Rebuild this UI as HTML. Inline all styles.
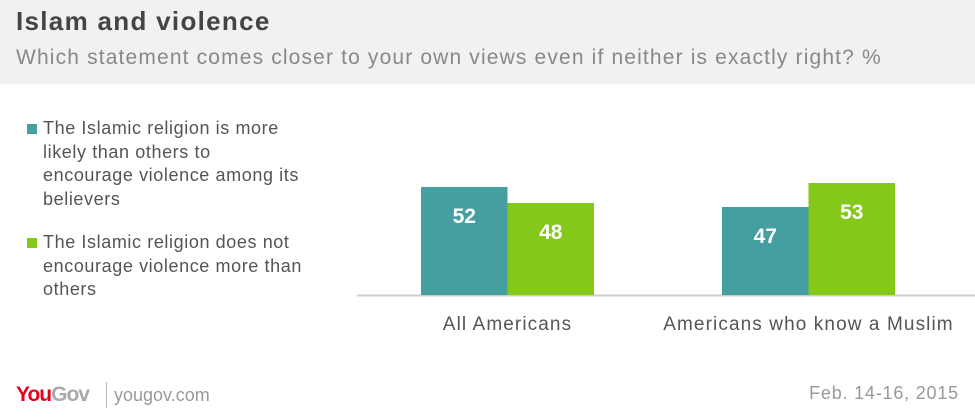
<!DOCTYPE html>
<html><head><meta charset="utf-8"><style>
body{margin:0;width:975px;height:420px;background:#fff;font-family:"Liberation Sans",sans-serif;position:relative;overflow:hidden}
.hdr{position:absolute;left:0;top:0;width:975px;height:84px;background:#f1f1f1}
.t{position:absolute;left:16px;top:6px;font-size:26px;font-weight:bold;color:#444;letter-spacing:1.3px}
.s{position:absolute;left:16px;top:46px;font-size:21px;color:#888;white-space:nowrap;letter-spacing:1.15px}
.leg{position:absolute;left:43px;font-size:18px;line-height:23.5px;color:#555;white-space:nowrap;letter-spacing:0.6px}
.sq{position:absolute;left:27px;width:10px;height:10px}
</style></head><body>
<div class="hdr">
<div class="t">Islam and violence</div>
<div class="s">Which statement comes closer to your own views even if neither is exactly right? %</div>
</div>
<div class="sq" style="top:124px;background:#459e9f"></div>
<div class="leg" style="top:117px">The Islamic religion is more<br>likely than others to<br>encourage violence among its<br>believers</div>
<div class="sq" style="top:238px;background:#84c91a"></div>
<div class="leg" style="top:231px">The Islamic religion does not<br>encourage violence more than<br>others</div>
<svg id="c" width="975" height="420" style="position:absolute;left:0;top:0"></svg>
<div style="position:absolute;left:16px;top:383px;font-size:21px;font-weight:bold;letter-spacing:-1px"><span style="color:#e5001c">You</span><span style="color:#aaa">Gov</span></div>
<div style="position:absolute;left:106px;top:382px;width:1px;height:26px;background:#bbb"></div>
<div style="position:absolute;left:114px;top:385px;font-size:18px;color:#999">yougov.com</div>
<div style="position:absolute;right:16px;top:383px;font-size:18px;color:#999;letter-spacing:0.8px">Feb. 14-16, 2015</div>
<script>
const categories=["All Americans","Americans who know a Muslim"];
const moreViolent=[52,47];
const notMoreViolent=[48,53];
const series=[moreViolent,notMoreViolent];
const colors=["#459e9f","#84c91a"];
const svg=document.getElementById('c');
const NS="http://www.w3.org/2000/svg";
const base=295, y0=25, ppu=4;
function y(v){return base-(v-y0)*ppu;}
const groupX=[421,722], bw=86.5;
const ax=document.createElementNS(NS,'line');
ax.setAttribute('x1',357);ax.setAttribute('x2',975);ax.setAttribute('y1',base+0.5);ax.setAttribute('y2',base+0.5);
ax.setAttribute('stroke','#ccc');ax.setAttribute('stroke-width',2);


svg.appendChild(ax);
categories.forEach((c,i)=>{
 series.forEach((s,j)=>{
  const x=groupX[i]+j*bw, v=s[i];
  const r=document.createElementNS(NS,'rect');
  r.setAttribute('x',x);r.setAttribute('y',y(v));r.setAttribute('width',bw);r.setAttribute('height',base-y(v));r.setAttribute('fill',colors[j]);
  
  
  svg.appendChild(r);
  const t=document.createElementNS(NS,'text');
  t.setAttribute('x',x+bw/2);t.setAttribute('y',y(v)+36);t.setAttribute('text-anchor','middle');
  t.setAttribute('fill','#fff');t.setAttribute('font-size','21');t.setAttribute('font-weight','bold');t.setAttribute('font-family','Liberation Sans, sans-serif');
  t.textContent=v;
  
  
  svg.appendChild(t);
 });
 const l=document.createElementNS(NS,'text');
 l.setAttribute('x',groupX[i]+bw);l.setAttribute('y',330);l.setAttribute('text-anchor','middle');
 l.setAttribute('fill','#555');l.setAttribute('font-size','19');l.setAttribute('letter-spacing','1.1');l.setAttribute('font-family','Liberation Sans, sans-serif');
 l.textContent=c;
 
 
 svg.appendChild(l);
});
</script>
</body></html>
